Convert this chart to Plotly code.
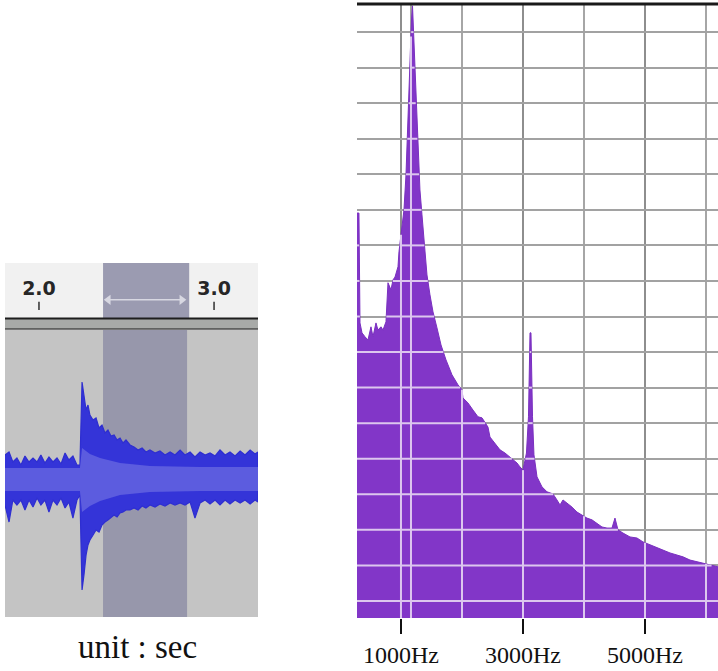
import numpy as np
import plotly.graph_objects as go

# ---------------- left panel: waveform (unit: sec) ----------------
wave_time = [1.806, 1.829, 1.851, 1.874, 1.897, 1.920, 1.943, 1.966, 1.989, 2.011,
             2.034, 2.057, 2.080, 2.103, 2.126, 2.149, 2.171, 2.194, 2.217, 2.234,
             2.246, 2.257, 2.269, 2.280, 2.291, 2.309, 2.326, 2.343, 2.360, 2.377,
             2.394, 2.411, 2.429, 2.446, 2.463, 2.480, 2.497, 2.520, 2.543, 2.566,
             2.589, 2.611, 2.634, 2.663, 2.691, 2.720, 2.749, 2.777, 2.806, 2.834,
             2.863, 2.891, 2.920, 2.949, 2.977, 3.006, 3.034, 3.063, 3.091, 3.120,
             3.149, 3.177, 3.206, 3.234, 3.251]
wave_upper = [23, 26, 16, 20, 13, 22, 16, 20, 16, 23,
              15, 21, 16, 20, 14, 25, 18, 22, 13, 13,
              96, 83, 68, 73, 63, 58, 60, 50, 53, 45,
              48, 42, 43, 38, 40, 35, 38, 33, 31, 28,
              30, 26, 28, 25, 27, 23, 26, 23, 28, 23,
              26, 21, 26, 23, 25, 22, 28, 23, 26, 22,
              27, 23, 28, 24, 26]
wave_lower = [-27, -44, -22, -27, -22, -32, -22, -29, -20, -27,
              -22, -34, -22, -27, -20, -30, -24, -40, -22, -17,
              -112, -97, -77, -67, -62, -57, -52, -54, -47, -44,
              -42, -40, -37, -39, -35, -34, -32, -32, -30, -32,
              -28, -30, -27, -29, -26, -28, -25, -27, -25, -27,
              -24, -40, -25, -22, -26, -22, -27, -22, -26, -22,
              -25, -22, -26, -22, -24]
rms_time = [1.806, 2.234, 2.246, 2.291, 2.349, 2.463, 2.634, 2.920, 3.251]
rms_upper = [10, 10, 30, 24, 20, 15, 12, 11, 11]
rms_lower = [-13, -13, -34, -28, -23, -17, -14, -13, -13]
sel_start, sel_end = 2.366, 2.846
ruler_ticks = [2.0, 3.0]
ruler_labels = ["2.0", "3.0"]
time_range = [1.806, 3.251]
amp_range = [-139, 148]

# ---------------- right panel: spectrum ----------------
spec_freq = [279, 311, 328, 361, 410, 459, 508, 541, 590, 623,
             672, 705, 754, 787, 836, 869, 902, 951, 967, 1000,
             1049, 1082, 1115, 1148, 1172, 1189, 1205, 1230, 1246, 1279,
             1311, 1344, 1377, 1426, 1475, 1525, 1590, 1656, 1738, 1836,
             1934, 2000, 2016, 2098, 2180, 2262, 2328, 2377, 2426, 2459,
             2541, 2623, 2705, 2787, 2836, 2902, 2951, 3000, 3057, 3090,
             3115, 3131, 3156, 3180, 3230, 3311, 3393, 3492, 3557, 3607,
             3656, 3721, 3803, 3885, 3967, 4049, 4131, 4213, 4295, 4377,
             4459, 4508, 4557, 4639, 4754, 4869, 4967, 5082, 5197, 5295,
             5410, 5525, 5623, 5738, 5852, 5951, 6066, 6197]
spec_level = [11.39, 11.39, 8.30, 8.02, 7.91, 7.82, 8.19, 7.91, 8.30, 8.10,
              8.19, 8.10, 8.33, 9.43, 9.23, 9.51, 9.59, 9.88, 10.30, 10.78,
              11.48, 12.46, 14.15, 15.42, 16.82, 17.22, 16.54, 15.14, 14.29, 13.17,
              12.04, 11.34, 10.63, 9.65, 9.09, 8.61, 8.16, 7.68, 7.26, 6.84,
              6.56, 6.42, 6.19, 6.05, 5.85, 5.66, 5.63, 5.49, 5.37, 5.09,
              4.92, 4.73, 4.64, 4.53, 4.45, 4.36, 4.25, 4.16, 4.64, 5.66,
              8.02, 8.02, 5.66, 4.59, 3.97, 3.69, 3.55, 3.49, 3.32, 3.18,
              3.32, 3.24, 3.12, 2.98, 2.90, 2.81, 2.76, 2.67, 2.56, 2.53,
              2.53, 2.81, 2.48, 2.39, 2.28, 2.25, 2.14, 2.06, 1.97, 1.91,
              1.83, 1.77, 1.72, 1.63, 1.58, 1.55, 1.49, 1.44]
freq_ticks = [1000, 3000, 5000]
freq_labels = ["1000Hz", "3000Hz", "5000Hz"]
freq_minor = [2000, 4000, 6000]
cursor_freq = 1164
freq_range = [279, 6197]
level_range = [0, 17.27]
level_tick0, level_step = 0.48, 1.0

W, H = 718, 671
def px(x):
    return x / W
def py(y):
    return 1 - y / H

fig = go.Figure()

# waveform: peak envelope and RMS core
fig.add_trace(go.Scatter(
    x=wave_time + wave_time[::-1], y=wave_upper + wave_lower[::-1],
    fill="toself", fillcolor="#3434d8", line=dict(color="#2e2ed0", width=1.2),
    mode="lines", xaxis="x", yaxis="y", hoverinfo="skip"))
fig.add_trace(go.Scatter(
    x=rms_time + rms_time[::-1], y=rms_upper + rms_lower[::-1],
    fill="toself", fillcolor="#5c5cdf", line=dict(color="#5c5cdf", width=0),
    mode="lines", xaxis="x", yaxis="y", hoverinfo="skip"))

# ruler labels / ticks / selection arrow
fig.add_trace(go.Scatter(
    x=ruler_ticks, y=[0.5, 0.5], text=ruler_labels, mode="text",
    textfont=dict(family="DejaVu Sans", size=19, color="#262626", weight="bold"),
    xaxis="x2", yaxis="y2", hoverinfo="skip"))
fig.add_trace(go.Scatter(
    x=ruler_ticks, y=[0.22, 0.22], mode="markers",
    marker=dict(symbol="line-ns", size=6, line=dict(width=1.5, color="#303030")),
    xaxis="x2", yaxis="y2", hoverinfo="skip"))
arr_x = [sel_start + 0.03, sel_end - 0.03]
fig.add_trace(go.Scatter(
    x=arr_x, y=[0.33, 0.33], mode="lines+markers",
    line=dict(color="#d8d8e2", width=1.5),
    marker=dict(symbol=["triangle-left", "triangle-right"], size=9, color="#d8d8e2"),
    xaxis="x2", yaxis="y2", hoverinfo="skip"))

# spectrum fill
fig.add_trace(go.Scatter(
    x=spec_freq, y=spec_level, fill="tozeroy", fillcolor="#8236c8",
    line=dict(color="#7a30c0", width=1), mode="lines",
    xaxis="x3", yaxis="y3", hoverinfo="skip"))

# light grid lines drawn over the purple area
fd = np.linspace(spec_freq[0], spec_freq[-1], 5000)
Ld = np.interp(fd, spec_freq, spec_level)
hx, hy = [], []
for g in np.arange(level_tick0, level_range[1], level_step):
    mask = (Ld > g).astype(int)
    edges = np.flatnonzero(np.diff(np.r_[0, mask, 0]))
    for s, e in zip(edges[::2], edges[1::2]):
        hx += [fd[s], fd[e - 1], None]
        hy += [g, g, None]
for f in freq_ticks + freq_minor + [cursor_freq]:
    if f <= freq_range[1]:
        hx += [f, f, None]
        hy += [0, float(np.interp(f, spec_freq, spec_level)), None]
fig.add_trace(go.Scatter(
    x=hx, y=hy, mode="lines", line=dict(color="#dcc6ee", width=2),
    connectgaps=False, xaxis="x3", yaxis="y3", hoverinfo="skip"))

shapes = [
    # track background + selection
    dict(type="rect", xref="x domain", yref="y domain", x0=0, x1=1, y0=0, y1=1,
         fillcolor="#c4c4c4", line=dict(width=0), layer="below"),
    dict(type="rect", xref="x", yref="y domain", x0=sel_start, x1=sel_end, y0=0, y1=1,
         fillcolor="#9797ab", line=dict(width=0), layer="below"),
    # ruler background + selection
    dict(type="rect", xref="x2 domain", yref="y2 domain", x0=0, x1=1, y0=0, y1=1,
         fillcolor="#f1f1f1", line=dict(width=0), layer="below"),
    dict(type="rect", xref="x2", yref="y2 domain", x0=sel_start, x1=sel_end + 0.012, y0=0, y1=1,
         fillcolor="#9b9bb1", line=dict(width=0), layer="below"),
    # ruler bottom strip
    dict(type="rect", xref="paper", yref="paper", x0=px(5), x1=px(258), y0=py(329), y1=py(318),
         fillcolor="#a8aaa8", line=dict(width=0)),
    dict(type="line", xref="paper", yref="paper", x0=px(5), x1=px(258), y0=py(318.5), y1=py(318.5),
         line=dict(color="#1e1e1e", width=2)),
    dict(type="line", xref="paper", yref="paper", x0=px(5), x1=px(258), y0=py(329), y1=py(329),
         line=dict(color="#4a4a4a", width=1.5)),
    # spectrum cursor line and top border
    dict(type="line", xref="x3", yref="y3 domain", x0=cursor_freq, x1=cursor_freq, y0=0, y1=1,
         line=dict(color="#a4a4a4", width=2), layer="below"),
    dict(type="line", xref="x3 domain", yref="y3 domain", x0=0, x1=1, y0=1, y1=1,
         line=dict(color="#1a1a1a", width=3)),
]

fig.update_layout(
    width=W, height=H, margin=dict(l=0, r=0, t=0, b=0),
    paper_bgcolor="white", plot_bgcolor="white", showlegend=False,
    shapes=shapes,
    xaxis=dict(domain=[px(5), px(258)], range=time_range, visible=False, anchor="y"),
    yaxis=dict(domain=[py(617), py(330)], range=amp_range, visible=False, anchor="x"),
    xaxis2=dict(domain=[px(5), px(258)], range=time_range, visible=False, anchor="y2"),
    yaxis2=dict(domain=[py(318), py(263)], range=[0, 1], visible=False, anchor="x2"),
    xaxis3=dict(domain=[px(357), 1.0], range=freq_range, anchor="y3",
                tickmode="array", tickvals=freq_ticks, ticktext=freq_labels,
                ticks="outside", ticklen=15, tickwidth=2, tickcolor="#111111",
                tickfont=dict(family="Liberation Serif", size=24, color="#111111"),
                showgrid=True, gridcolor="#8e8e8e", gridwidth=2,
                minor=dict(tickmode="array", tickvals=freq_minor, showgrid=True,
                           gridcolor="#a6a6a6", gridwidth=2, ticks=""),
                showline=False, zeroline=False),
    yaxis3=dict(domain=[py(618), py(4)], range=level_range, anchor="x3",
                tick0=level_tick0, dtick=level_step, showticklabels=False, ticks="",
                showgrid=True, gridcolor="#a2a2a2", gridwidth=2,
                showline=False, zeroline=False),
    annotations=[dict(text="unit : sec", xref="paper", yref="paper",
                      x=px(137.5), y=py(647), xanchor="center", yanchor="middle",
                      showarrow=False,
                      font=dict(family="Liberation Serif", size=33, color="#111111"))],
)

fig.write_html("out.html")
